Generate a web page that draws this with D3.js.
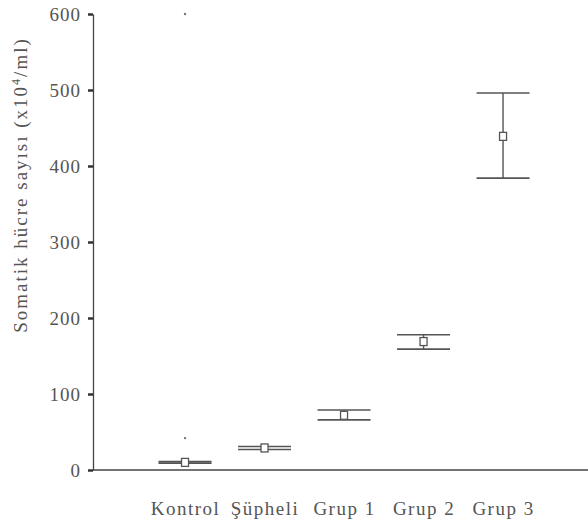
<!DOCTYPE html>
<html>
<head>
<meta charset="utf-8">
<script src="https://cdn.jsdelivr.net/npm/d3@7"></script>
<style>
  body { margin: 0; background: #fff; }
  svg { display: block; }
  text { font-family: "Liberation Serif", "Times New Roman", serif; fill: #555; }
</style>
</head>
<body>
<svg id="chart" width="588" height="529"></svg>
<script>
const categories = ["Kontrol", "Şüpheli", "Grup 1", "Grup 2", "Grup 3"];
const means = [10, 29, 72, 169, 439];
const lower = [9, 27, 66, 159, 384];
const upper = [11, 31, 79, 178, 496];
const outlierCats = ["Kontrol", "Kontrol"];
const outlierVals = [42, 600];
const yTicks = [0, 100, 200, 300, 400, 500, 600];

const svg = d3.select("#chart");
const x = d3.scalePoint().domain(categories).range([93, 588]).padding(1.113).align(0.52);
const y = d3.scaleLinear().domain([0, 600]).range([470, 14]);

const lineColor = "#555";

// Y axis
const yAxis = svg.append("g").attr("transform", "translate(93,0)")
  .call(d3.axisLeft(y).tickValues(yTicks).tickSize(5).tickPadding(7).tickSizeOuter(0));
yAxis.select(".domain").attr("stroke", "#444").attr("stroke-width", 1.3);
yAxis.selectAll(".tick line").attr("stroke", "#333").attr("stroke-width", 2.5);
yAxis.selectAll(".tick text").attr("font-size", 19).attr("letter-spacing", "1px")
  .attr("fill", "#555").style("font-family", "Liberation Serif, serif");

// X axis
const xAxis = svg.append("g").attr("transform", "translate(0,470)")
  .call(d3.axisBottom(x).tickSize(0).tickSizeOuter(0));
xAxis.select(".domain").attr("d", "M93,0H588").attr("stroke", "#444").attr("stroke-width", 1.3);
xAxis.selectAll(".tick text").attr("font-size", 19).attr("letter-spacing", "1.5px")
  .attr("y", 45).attr("dy", 0).attr("fill", "#555").style("font-family", "Liberation Serif, serif");

// Y label
const yl = svg.append("text")
  .attr("transform", "translate(27,185) rotate(-90)")
  .attr("text-anchor", "middle")
  .attr("font-size", 19)
  .attr("letter-spacing", "2px");
yl.append("tspan").text("Somatik hücre sayısı (x10");
yl.append("tspan").attr("baseline-shift", "super").attr("font-size", 12).text("4");
yl.append("tspan").text("/ml)");

// Error bars
const capW = 53;
const g = svg.append("g");
categories.forEach((c, i) => {
  const cx = x(c);
  g.append("line").attr("x1", cx).attr("x2", cx).attr("y1", y(lower[i])).attr("y2", y(upper[i]))
    .attr("stroke", lineColor).attr("stroke-width", 1.4);
  [lower[i], upper[i]].forEach(v => {
    g.append("line").attr("x1", cx - capW / 2).attr("x2", cx + capW / 2)
      .attr("y1", y(v)).attr("y2", y(v))
      .attr("stroke", lineColor).attr("stroke-width", 1.6);
  });
  g.append("rect").attr("x", cx - 3.5).attr("y", y(means[i]) - 4).attr("width", 7).attr("height", 8)
    .attr("fill", "#fff").attr("stroke", lineColor).attr("stroke-width", 1.3);
});

// Outlier dots
outlierCats.forEach((c, i) => {
  g.append("circle").attr("cx", x(c)).attr("cy", y(outlierVals[i])).attr("r", 1.2).attr("fill", "#777");
});
</script>
</body>
</html>
